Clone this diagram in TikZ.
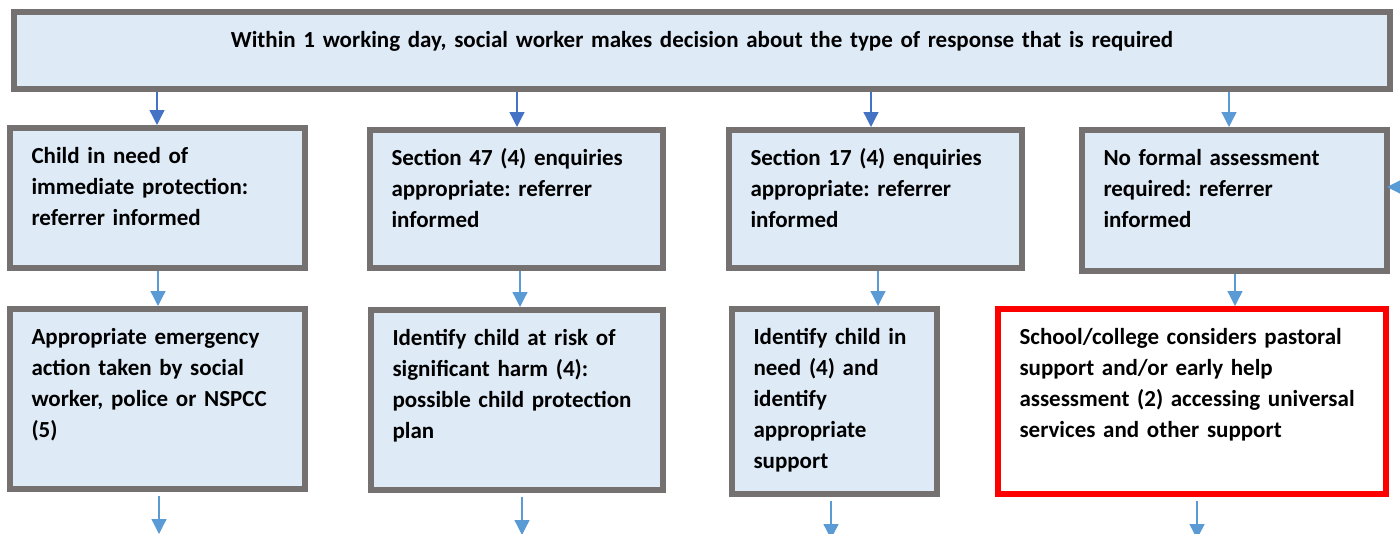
\documentclass[tikz,border=0pt]{standalone}
\usepackage{fontspec}
\setmainfont{Carlito}
\usetikzlibrary{arrows.meta}
\definecolor{boxfill}{RGB}{222,234,246}
\definecolor{boxline}{RGB}{118,113,113}
\definecolor{flowdark}{RGB}{68,114,196}
\definecolor{flowlight}{RGB}{91,155,213}
\definecolor{alertred}{RGB}{255,0,0}
\frenchspacing

\begin{document}
\begin{tikzpicture}[x=1pt,y=-1pt,
    stepbox/.style={draw=boxline,fill=boxfill,line width=6pt,anchor=north west,
      align=left,font=\fontsize{23}{31}\selectfont\bfseries,
      inner xsep=21.5pt,inner ysep=0pt,text height=35pt},
    flow/.style={line width=1.3pt,-{Triangle[length=15pt,width=15pt]}}]
    \useasboundingbox (0,0) rectangle (1400,533);
    \node[stepbox,align=center,text width=1333pt,text depth=42pt] (top) at (11,9)
      {Within 1 working day, social worker makes decision about the type of response that is required};
    \node[stepbox,text width=252pt,text depth=105pt] (b1) at (7,125)
      {Child in need of\\immediate protection:\\referrer informed};
    \node[stepbox,text width=250pt,text depth=103pt] (b2) at (367,127)
      {Section 47 (4) enquiries\\appropriate: referrer\\informed};
    \node[stepbox,text width=250pt,text depth=103pt] (b3) at (726,127)
      {Section 17 (4) enquiries\\appropriate: referrer\\informed};
    \node[stepbox,text width=262pt,text depth=106pt] (b4) at (1079,127)
      {No formal assessment\\required: referrer\\informed};
    \node[stepbox,text width=252pt,text depth=145pt] (c1) at (7,306)
      {Appropriate emergency\\action taken by social\\worker, police or NSPCC\\(5)};
    \node[stepbox,text width=249pt,text depth=145pt] (c2) at (368,307)
      {Identify child at risk of\\significant harm (4):\\possible child protection\\plan};
    \node[stepbox,text width=162pt,text depth=150pt] (c3) at (729,306)
      {Identify child in\\need (4) and\\identify\\appropriate\\support};
    \node[stepbox,draw=alertred,fill=white,text width=345pt,text depth=150pt] (c4) at (995,306)
      {School/college considers pastoral\\support and/or early help\\assessment (2) accessing universal\\services and other support};

    \draw[flow,flowdark] ([xshift=-0.5pt]b1.north |- top.south) -- ([xshift=-0.5pt]b1.north);
    \draw[flow,flowdark] ([xshift=0.5pt]b2.north |- top.south) -- ([xshift=0.5pt]b2.north);
    \draw[flow,flowdark] ([xshift=-4.5pt]b3.north |- top.south) -- ([xshift=-4.5pt]b3.north);
    \draw[flow,flowlight] ([xshift=-5.5pt]b4.north |- top.south) -- ([xshift=-5.5pt]b4.north);

    \draw[flow,flowlight] ([xshift=0.5pt]b1.south) coordinate (s1) -- (s1 |- c1.north);
    \draw[flow,flowlight] ([xshift=3.5pt]b2.south) coordinate (s2) -- (s2 |- c2.north);
    \draw[flow,flowlight] ([xshift=2.5pt]b3.south) coordinate (s3) -- (s3 |- c3.north);
    \draw[flow,flowlight] ([xshift=0.5pt]b4.south) coordinate (s4) -- (s4 |- c4.north);

    \draw[flow,flowlight] ([xshift=1.5pt,yshift=-4pt]c1.south) -- ++(0,38) coordinate (next1);
    \draw[flow,flowlight] ([xshift=5pt,yshift=-4pt]c2.south) -- ++(0,38) coordinate (next2);
    \draw[flow,flowlight] ([xshift=-3.5pt,yshift=-4pt]c3.south) -- ++(0,38) coordinate (next3);
    \draw[flow,flowlight] ([xshift=5pt,yshift=-4pt]c4.south) -- ++(0,38) coordinate (next4);

    \coordinate (sidein) at (1440,187);
    \draw[flow,flowlight] (sidein) -- ([xshift=-3pt]b4.east |- sidein);
\end{tikzpicture}
\end{document}
